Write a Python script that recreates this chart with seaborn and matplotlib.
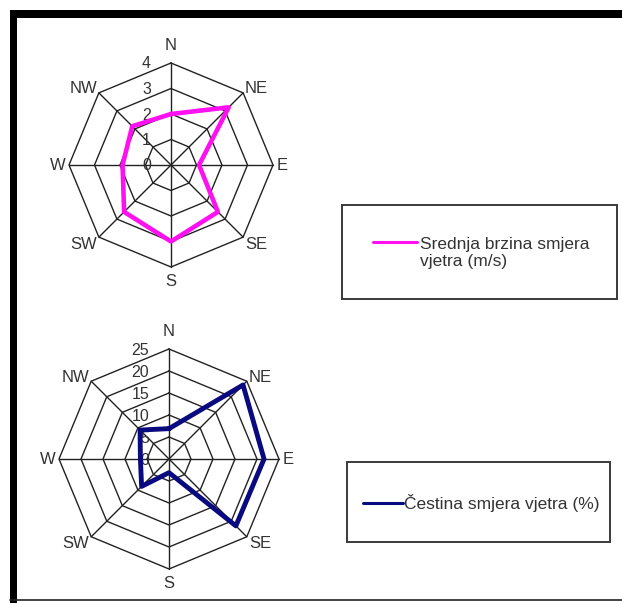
import numpy as np
import pandas as pd
import matplotlib
matplotlib.use("Agg")
import matplotlib.pyplot as plt
from matplotlib.patches import Rectangle
from matplotlib.lines import Line2D
import seaborn as sns

# ---- data ----
directions = ["N", "NE", "E", "SE", "S", "SW", "W", "NW"]
speed_values = [2.0, 3.2, 1.1, 2.6, 3.0, 2.6, 1.9, 2.15]      # m/s
speed_ticks = [0, 1, 2, 3, 4]
freq_values = [6.9, 23.8, 21.6, 21.5, 3.1, 8.8, 6.5, 9.3]     # %
freq_ticks = [0, 5, 10, 15, 20, 25]
speed_label = "Srednja brzina smjera\nvjetra (m/s)"
freq_label = "Čestina smjera vjetra (%)"
speed_color = "#FF10F0"
freq_color = "#0A0A80"

sns.set_style("white")
plt.rcParams["font.family"] = ["Liberation Sans", "DejaVu Sans"]

W, H = 622, 603
fig = plt.figure(figsize=(W / 100, H / 100), dpi=100)
fig.patch.set_facecolor("white")
TXT = "#333333"
FS = 12


def fx(x):
    return x / W


def fy(y):
    return 1 - y / H


theta = np.deg2rad(np.arange(len(directions)) * 45.0)


def radar(cx, cy, R, values, ticks, color, lw):
    S = 145
    ax = fig.add_axes([fx(cx - S), fy(cy + S), 2 * S / W, 2 * S / H])
    ax.set_facecolor("none")
    rmax = ticks[-1]
    k = S / R * rmax
    ax.set_xlim(-k, k)
    ax.set_ylim(-k, k)
    ax.axis("off")
    # grid rings
    for t in ticks[1:]:
        xs = np.append(t * np.sin(theta), t * np.sin(theta[0]))
        ys = np.append(t * np.cos(theta), t * np.cos(theta[0]))
        ax.plot(xs, ys, color="#222222", lw=1.0, zorder=1)
    # spokes
    for th in theta:
        ax.plot([0, rmax * np.sin(th)], [0, rmax * np.cos(th)],
                color="#222222", lw=1.0, zorder=1)
    # data polygon
    v = np.array(values + values[:1], dtype=float)
    th = np.append(theta, theta[0])
    df = pd.DataFrame({"x": v * np.sin(th), "y": v * np.cos(th),
                       "order": np.arange(len(v))})
    sns.lineplot(data=df, x="x", y="y", sort=False, estimator=None,
                 color=color, lw=lw, ax=ax, zorder=3)
    ax.set_xlabel("")
    ax.set_ylabel("")
    ax.axis("off")
    # tick labels
    for t in ticks:
        ax.annotate(str(t), xy=(0, t), xytext=(-20, -1), textcoords="offset pixels",
                    ha="right", va="center", fontsize=FS - 0.5, color=TXT, zorder=2)
    # direction labels
    offs = {"N": (0, 18, "center"), "NE": (2, 4, "left"), "E": (4, 0, "left"),
            "SE": (2, -7, "left"), "S": (0, -14, "center"), "SW": (-2, -7, "right"),
            "W": (-3, 0, "right"), "NW": (-2, 4, "right")}
    for d, th_ in zip(directions, theta):
        ox, oy, ha = offs[d]
        ax.annotate(d, xy=(rmax * np.sin(th_), rmax * np.cos(th_)), xytext=(ox, oy),
                    textcoords="offset pixels", ha=ha, va="center",
                    fontsize=FS, color=TXT)
    return ax


radar(171, 165, 102, speed_values, speed_ticks, speed_color, 3.3)
radar(169, 459, 110, freq_values, freq_ticks, freq_color, 3.5)


def legend_box(x0, y0, x1, y1, lx0, lx1, ly, tx, ty, label, color):
    fig.patches.append(Rectangle((fx(x0), fy(y1)), fx(x1 - x0), (y1 - y0) / H,
                                 transform=fig.transFigure, fill=False,
                                 edgecolor="#3a3a3a", lw=1.4))
    fig.lines.append(Line2D([fx(lx0), fx(lx1)], [fy(ly), fy(ly)],
                            transform=fig.transFigure, color=color, lw=2.2))
    fig.text(fx(tx), fy(ty), label, ha="left", va="center", fontsize=12.5,
             color=TXT, linespacing=1.2)


legend_box(342, 205, 617, 299, 373, 417, 242, 420, 253, speed_label, speed_color)
legend_box(347, 462, 610, 542, 363, 403, 503, 404, 503, freq_label, freq_color)

# outer frame
fig.patches.append(Rectangle((fx(10), fy(18)), 1 - fx(10), 8 / H,
                             transform=fig.transFigure, color="black", lw=0))
fig.patches.append(Rectangle((fx(10), 0), 7 / W, fy(10),
                             transform=fig.transFigure, color="black", lw=0))
fig.lines.append(Line2D([fx(10), 1], [fy(600), fy(600)],
                        transform=fig.transFigure, color="#222222", lw=1.2))

fig.savefig("out.png", dpi=100, facecolor="white")
